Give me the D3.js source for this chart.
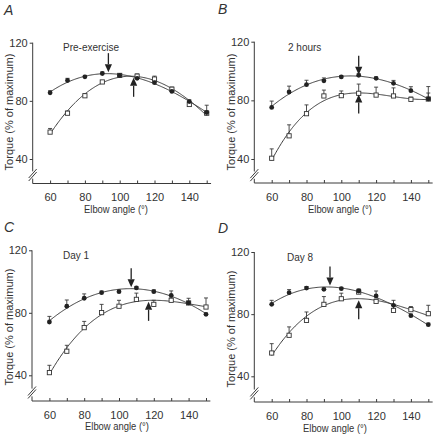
<!DOCTYPE html>
<html><head><meta charset="utf-8">
<script src="https://cdn.jsdelivr.net/npm/d3@7"></script>
<style>
body{margin:0;background:#fff;}
text{font-family:"Liberation Sans",Arial,Helvetica,sans-serif;fill:#333;}
</style></head>
<body><svg id="c" width="435" height="434"></svg>
<script>
const angles = [60,70,80,90,100,110,120,130,140,150];
const xTicks = [60,70,80,90,100,110,120,130,140,150];
const xTickLabels = [60,80,100,120,140];
const yTickLabels = [40,80,120];

const panelLetters = ["A","B","C","D"];
const panelTitles = ["Pre-exercise","2 hours","Day 1","Day 8"];

// Panel A – Pre-exercise
const aFilled    = [85.5,94,96.5,98.8,97.5,95.5,92.5,86.5,79.5,72];
const aFilledErr = [1.5,1.5,1,1,0.8,1,1,1,1.2,1];
const aOpen      = [58.5,71.5,83.5,93,97.5,97,95,88,77.5,71.5];
const aOpenErr   = [2.5,1.5,1.5,1,1,1.5,2,1.5,2,5.5];
const aOptimum   = [93.5,108];
// Panel B – 2 hours
const bFilled    = [75.2,85.7,90.7,93.3,96,97.1,95,91.6,86.6,81];
const bFilledErr = [4.3,4,3,2,0.8,1,1,2,2.7,4];
const bOpen      = [40.5,55.8,70.9,83,83.2,84.8,83.6,83,80.7,80.9];
const bOpenErr   = [6.4,7.5,6,4,3.2,6.3,5.4,5.5,1.5,8.5];
const bOptimum   = [110,110];
// Panel C – Day 1
const cFilled    = [74.1,84.2,89.3,92.9,93.5,95.9,93.5,91.2,86.3,79];
const cFilledErr = [3.6,4,2.8,1,1,0.8,1.2,2.8,1,0.8];
const cOpen      = [41.7,55.4,70.5,80.1,84.2,88.6,85.4,88,86.3,83.7];
const cOpenErr   = [4.7,3.8,4,5.3,3.8,4,2.6,2,3,5.8];
const cOptimum   = [107,117];
// Panel D – Day 8
const dFilled    = [86.3,93.8,96.8,96,96.4,94.9,91.7,85.7,79,73.2];
const dFilledErr = [2.6,2,1,0.8,0.8,1,3.2,3.2,1,1];
const dOpen      = [55,66.4,76,86.3,89.9,94.2,88.2,82.4,82.9,80.3];
const dOpenErr   = [6,5.4,5.4,5,3.6,2,1.5,3.2,2,5.4];
const dOptimum   = [93.5,110];

const panelData = [
  {filled:aFilled, filledErr:aFilledErr, open:aOpen, openErr:aOpenErr, opt:aOptimum},
  {filled:bFilled, filledErr:bFilledErr, open:bOpen, openErr:bOpenErr, opt:bOptimum},
  {filled:cFilled, filledErr:cFilledErr, open:cOpen, openErr:cOpenErr, opt:cOptimum},
  {filled:dFilled, filledErr:dFilledErr, open:dOpen, openErr:dOpenErr, opt:dOptimum}
];

// layout (pixel geometry only)
const layout = [
  {x0:32.7,  y40:159,   y120:42.7, xAxisY:183.5, letter:[4,15],    title:[63,50.5],  ytitle:[13,112],  xtitle:[116,213]},
  {x0:254.3, y40:159,   y120:41.7, xAxisY:183,   letter:[218,14],  title:[288,50.5], ytitle:[235,112], xtitle:[340,213]},
  {x0:32,    y40:375.3, y120:250.3,xAxisY:401,   letter:[4,232],   title:[63,259],   ytitle:[13,327],  xtitle:[117,430]},
  {x0:254.3, y40:376.3, y120:252,  xAxisY:402,   letter:[218,233], title:[287,261],  ytitle:[235,329], xtitle:[335,432]}
];

function polyfit(xs, ys, deg){
  const n = deg+1, c = 105, s = 45;
  const A = Array.from({length:n},()=>new Array(n+1).fill(0));
  xs.forEach((x,i)=>{
    const t=(x-c)/s;
    for(let r=0;r<n;r++){
      for(let k=0;k<n;k++) A[r][k]+=Math.pow(t,r+k);
      A[r][n]+=ys[i]*Math.pow(t,r);
    }
  });
  for(let i=0;i<n;i++){
    let p=i; for(let r=i+1;r<n;r++) if(Math.abs(A[r][i])>Math.abs(A[p][i])) p=r;
    [A[i],A[p]]=[A[p],A[i]];
    for(let r=0;r<n;r++){ if(r===i) continue; const f=A[r][i]/A[i][i];
      for(let k=i;k<=n;k++) A[r][k]-=f*A[i][k]; }
  }
  const coef = A.map((row,i)=>row[n]/row[i]);
  return x=>{const t=(x-c)/s; let v=0; for(let k=n-1;k>=0;k--) v=v*t+coef[k]; return v;};
}

const svg = d3.select("#c");
const lineCol = "#3a3a3a";

panelData.forEach((pd, pi)=>{
  const L = layout[pi];
  const g = svg.append("g");
  const x = d3.scaleLinear().domain([50,150]).range([L.x0, L.x0+174]);
  const y = d3.scaleLinear().domain([40,120]).range([L.y40, L.y120]);

  // x axis (ticks inward)
  const xAxis = d3.axisBottom(x).tickValues(xTicks).tickSizeInner(-3).tickSizeOuter(0)
    .tickFormat(d=> xTickLabels.includes(d)? d : "");
  const gx = g.append("g").attr("transform",`translate(0,${L.xAxisY})`).call(xAxis);
  gx.select(".domain").attr("d",`M${L.x0},0H${x(152.5)}`).attr("stroke",lineCol);
  gx.selectAll("line").attr("stroke",lineCol);
  gx.selectAll("text").attr("font-size",11).attr("dy",0).attr("y",17.5).attr("fill","#333");

  // y axis
  const yAxis = d3.axisLeft(y).tickValues(yTickLabels).tickSizeInner(3).tickSizeOuter(0).tickPadding(2);
  const gy = g.append("g").attr("transform",`translate(${L.x0},0)`).call(yAxis);
  gy.select(".domain").remove();
  gy.selectAll("line").attr("stroke",lineCol);
  gy.selectAll("text").attr("font-size",11).attr("fill","#333");
  const yBreakTop = y(31.5), yBreakBot = y(26.5);
  g.append("line").attr("x1",L.x0).attr("x2",L.x0).attr("y1",y(120)).attr("y2",yBreakTop).attr("stroke",lineCol);
  g.append("line").attr("x1",L.x0).attr("x2",L.x0).attr("y1",yBreakBot).attr("y2",L.xAxisY).attr("stroke",lineCol);
  [0,3].forEach(off=>{
    const yc = (yBreakTop+yBreakBot)/2 + off - 1.5;
    g.append("line").attr("x1",L.x0-4).attr("y1",yc+4.5).attr("x2",L.x0+4).attr("y2",yc-4.5)
      .attr("stroke",lineCol).attr("stroke-width",1);
  });

  // fitted curves
  const fitF = polyfit(angles, pd.filled, 3);
  const fitO = polyfit(angles, pd.open, 3);
  const xs = d3.range(60,150.01,0.5);
  const line = d3.line().x(d=>x(d[0])).y(d=>y(d[1]));
  [fitF, fitO].forEach(f=>{
    g.append("path").attr("d", line(xs.map(a=>[a,f(a)]))).attr("fill","none")
      .attr("stroke",lineCol).attr("stroke-width",1);
  });

  // error bars (upward)
  const drawErr = (vals, errs)=>{
    vals.forEach((v,i)=>{
      const xx = x(angles[i]), y1 = y(v), y2 = y(v+errs[i]);
      g.append("line").attr("x1",xx).attr("x2",xx).attr("y1",y1).attr("y2",y2).attr("stroke",lineCol).attr("stroke-width",0.9);
      g.append("line").attr("x1",xx-2).attr("x2",xx+2).attr("y1",y2).attr("y2",y2).attr("stroke",lineCol).attr("stroke-width",0.9);
    });
  };
  drawErr(pd.open, pd.openErr);
  drawErr(pd.filled, pd.filledErr);

  // markers
  g.selectAll(null).data(pd.open).enter().append("rect")
    .attr("x",(d,i)=>x(angles[i])-2.1).attr("y",d=>y(d)-2.1).attr("width",4.2).attr("height",4.2)
    .attr("fill","#fff").attr("stroke","#333").attr("stroke-width",0.9);
  g.selectAll(null).data(pd.filled).enter().append("circle")
    .attr("cx",(d,i)=>x(angles[i])).attr("cy",d=>y(d)).attr("r",2.4).attr("fill","#222");

  // arrows: down to filled optimum, up to open optimum
  const arrow = (ang, val, dir)=>{
    const xx = x(ang), tip = y(val) - dir*1.5;
    const base = tip - dir*8, end = tip - dir*19;
    g.append("line").attr("x1",xx).attr("x2",xx).attr("y1",end).attr("y2",base).attr("stroke","#222").attr("stroke-width",1.3);
    g.append("path").attr("d",`M${xx},${tip}L${xx-3.6},${base}L${xx+3.6},${base}Z`).attr("fill","#222");
  };
  arrow(pd.opt[0], fitF(pd.opt[0]), 1);
  arrow(pd.opt[1], fitO(pd.opt[1]), -1);

  // texts
  g.append("text").attr("x",L.letter[0]).attr("y",L.letter[1]).attr("font-size",14).attr("font-style","italic").text(panelLetters[pi]);
  g.append("text").attr("x",L.title[0]).attr("y",L.title[1]).attr("font-size",10).text(panelTitles[pi]);
  g.append("text").attr("transform",`translate(${L.ytitle[0]},${L.ytitle[1]}) rotate(-90)`)
    .attr("text-anchor","middle").attr("font-size",11).text("Torque (% of maximum)");
  g.append("text").attr("x",L.xtitle[0]).attr("y",L.xtitle[1]).attr("text-anchor","middle")
    .attr("font-size",11).attr("textLength",64).attr("lengthAdjust","spacingAndGlyphs").text("Elbow angle (°)");
});
</script></body></html>
